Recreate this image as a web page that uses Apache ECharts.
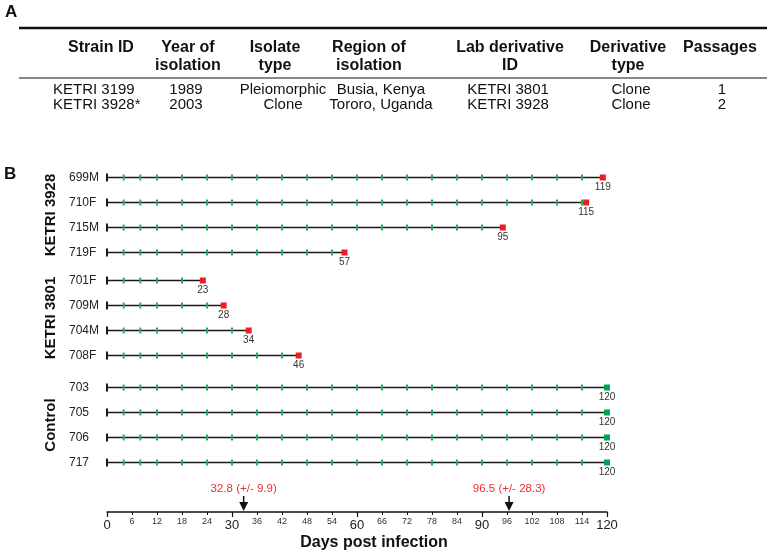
<!DOCTYPE html>
<html>
<head>
<meta charset="utf-8">
<script src="https://cdn.jsdelivr.net/npm/echarts@6/dist/echarts.min.js"></script>
<style>
html, body { margin: 0; padding: 0; background: #fff; }
#main { width: 773px; height: 554px; }
</style>
</head>
<body>
<div id="main"></div>
<script>
// panel A table
var tableHeaders = [['Strain ID'], ['Year of', 'isolation'], ['Isolate', 'type'], ['Region of', 'isolation'],
    ['Lab derivative', 'ID'], ['Derivative', 'type'], ['Passages']];
var strainRows = [
    ['KETRI 3199', '1989', 'Pleiomorphic', 'Busia, Kenya', 'KETRI 3801', 'Clone', '1'],
    ['KETRI 3928*', '2003', 'Clone', 'Tororo, Uganda', 'KETRI 3928', 'Clone', '2']
];

// panel B survival
var groups = ['KETRI 3928', 'KETRI 3801', 'Control'];
var mice3928 = ['699M', '710F', '715M', '719F'];
var days3928 = [119, 115, 95, 57];
var mice3801 = ['701F', '709M', '704M', '708F'];
var days3801 = [23, 28, 34, 46];
var miceControl = ['703', '705', '706', '717'];
var daysControl = [120, 120, 120, 120];
var survived = [false, false, true];
var sampleDays = [4, 8, 12, 18, 24, 30, 36, 42, 48, 54, 60, 66, 72, 78, 84, 90, 96, 102, 108, 114];
var meanDays = [32.8, 96.5];
var meanLabels = ['32.8 (+/- 9.9)', '96.5 (+/- 28.3)'];

var groupMice = [mice3928, mice3801, miceControl];
var groupDays = [days3928, days3801, daysControl];

var FONT = 'Liberation Sans, Arial, sans-serif';
var chart = echarts.init(document.getElementById('main'));

// table layout
var headerX = [101, 188, 275, 369, 510, 628, 720];
var cellX = [53, 186, 283, 381, 508, 631, 722];
var rowY = [90, 105];

var graphics = [
    { type: 'text', left: 5, top: 4, style: { text: 'A', font: 'bold 17px ' + FONT, fill: '#111' } },
    { type: 'text', left: 4, top: 166, style: { text: 'B', font: 'bold 17px ' + FONT, fill: '#111' } },
    { type: 'line', shape: { x1: 19, y1: 28, x2: 767, y2: 28 }, style: { stroke: '#111', lineWidth: 2.5 } },
    { type: 'line', shape: { x1: 19, y1: 78, x2: 767, y2: 78 }, style: { stroke: '#111', lineWidth: 1.2 } },
    { type: 'text', x: 374, y: 543, style: { text: 'Days post infection', font: 'bold 16px ' + FONT, fill: '#111', align: 'center', verticalAlign: 'middle' } }
];
tableHeaders.forEach(function (h, i) {
    graphics.push({
        type: 'text', x: headerX[i], y: 39,
        style: { text: h.join('\n'), font: 'bold 16px ' + FONT, lineHeight: 18, fill: '#111', align: 'center', verticalAlign: 'top' }
    });
});
strainRows.forEach(function (r, j) {
    r.forEach(function (c, i) {
        graphics.push({
            type: 'text', x: cellX[i], y: rowY[j],
            style: { text: c, font: '15px ' + FONT, fill: '#111', align: i === 0 ? 'left' : 'center', verticalAlign: 'middle' }
        });
    });
});

function makeRowRenderer(alive) {
    return function (params, api) {
        var end = api.value(0);
        var row = api.value(1);
        var start = api.coord([0, row]);
        var stop = api.coord([end, row]);
        var kids = [
            { type: 'line', shape: { x1: start[0], y1: start[1], x2: stop[0], y2: stop[1] }, style: { stroke: '#1a1a1a', lineWidth: 1.5 } },
            { type: 'line', shape: { x1: start[0], y1: start[1] - 4, x2: start[0], y2: start[1] + 4 }, style: { stroke: '#1a1a1a', lineWidth: 2 } }
        ];
        sampleDays.forEach(function (d) {
            if (d < end) {
                var p = api.coord([d, row]);
                kids.push({ type: 'line', shape: { x1: p[0], y1: p[1] - 3, x2: p[0], y2: p[1] + 3 }, style: { stroke: '#22b05a', lineWidth: 2 } });
            }
        });
        kids.push({ type: 'rect', shape: { x: stop[0] - 3, y: stop[1] - 3, width: 6, height: 6 }, style: { fill: alive ? '#00a651' : '#ee1d23' } });
        kids.push({ type: 'text', x: stop[0], y: stop[1] + 5, style: { text: String(end), fill: '#333', font: '10px ' + FONT, align: 'center', verticalAlign: 'top' } });
        return { type: 'group', children: kids };
    };
}

var grids = [], xAxes = [], yAxes = [], series = [];
var gridTops = [165, 268, 375];
groups.forEach(function (g, i) {
    grids.push({ left: 107, width: 500, top: gridTops[i], height: 100, outerBoundsMode: 'none' });
    xAxes.push({ gridIndex: i, type: 'value', min: 0, max: 120, show: false });
    yAxes.push({
        gridIndex: i, type: 'category', data: groupMice[i], inverse: true,
        name: g, nameLocation: 'middle', nameRotate: 90, nameGap: 46,
        nameTextStyle: { fontFamily: FONT, fontWeight: 'bold', fontSize: 15, color: '#111' },
        axisLine: { show: false }, axisTick: { show: false }, splitLine: { show: false },
        axisLabel: { align: 'left', margin: 38, fontFamily: FONT, fontSize: 12, color: '#222' }
    });
    series.push({
        type: 'custom', xAxisIndex: i, yAxisIndex: i, clip: false,
        data: groupDays[i].map(function (d, k) { return [d, groupMice[i][k]]; }),
        encode: { x: 0, y: 1 },
        renderItem: makeRowRenderer(survived[i])
    });
});

// shared day axis
grids.push({ left: 107, width: 500, top: 480, height: 32, outerBoundsMode: 'none' });
xAxes.push({
    gridIndex: 3, type: 'value', min: 0, max: 120, interval: 30, position: 'bottom',
    axisLine: { lineStyle: { color: '#111', width: 1.5 } },
    axisTick: { length: 5, lineStyle: { color: '#111', width: 1.2 } },
    splitLine: { show: false },
    axisLabel: { margin: 7, fontFamily: FONT, fontSize: 13, color: '#222', showMinLabel: true, showMaxLabel: true }
});
xAxes.push({
    gridIndex: 3, type: 'value', min: 0, max: 120, interval: 6, position: 'bottom',
    axisLine: { show: false },
    axisTick: { show: true, length: 3, lineStyle: { color: '#111', width: 1 } },
    splitLine: { show: false },
    axisLabel: { margin: 5, fontFamily: FONT, fontSize: 9, color: '#333', formatter: function (v) { return v % 30 === 0 ? '' : v; } }
});
yAxes.push({ gridIndex: 3, type: 'value', min: 0, max: 1, show: false });
series.push({
    type: 'custom', xAxisIndex: 3, yAxisIndex: 3, clip: false,
    data: meanDays.map(function (d) { return [d, 0]; }),
    renderItem: function (params, api) {
        var p = api.coord([api.value(0), 0]);
        return {
            type: 'group', children: [
                { type: 'text', x: p[0], y: p[1] - 23, style: { text: meanLabels[params.dataIndex], fill: '#ee2d2d', font: '11.5px ' + FONT, align: 'center', verticalAlign: 'middle' } },
                { type: 'line', shape: { x1: p[0], y1: p[1] - 16, x2: p[0], y2: p[1] - 9 }, style: { stroke: '#111', lineWidth: 1.5 } },
                { type: 'polygon', shape: { points: [[p[0] - 4.5, p[1] - 10], [p[0] + 4.5, p[1] - 10], [p[0], p[1] - 1]] }, style: { fill: '#111' } }
            ]
        };
    }
});

var option = {
    animation: false,
    backgroundColor: '#fff',
    textStyle: { fontFamily: FONT },
    grid: grids,
    xAxis: xAxes,
    yAxis: yAxes,
    series: series,
    graphic: graphics
};
chart.setOption(option);
</script>
</body>
</html>
